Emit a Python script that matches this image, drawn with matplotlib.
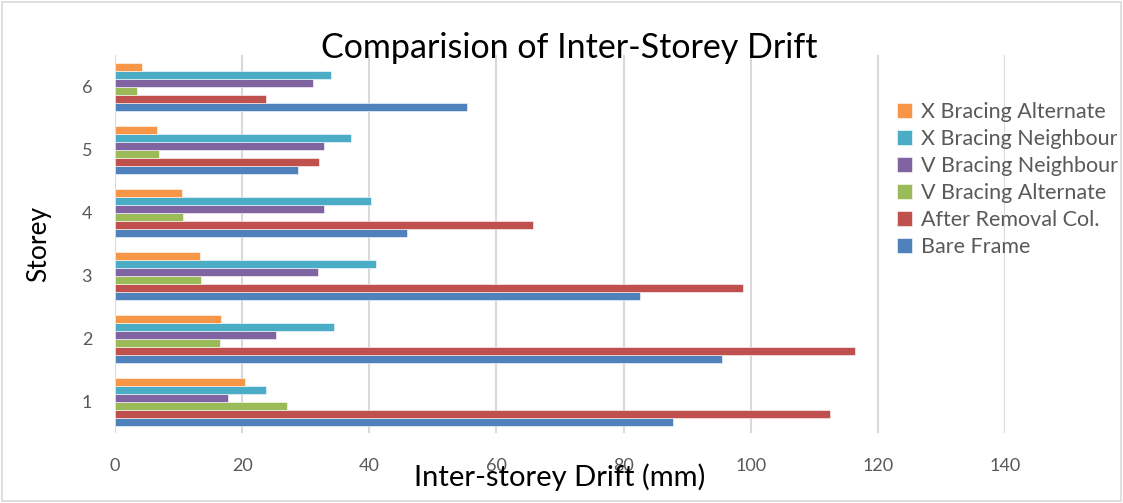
import matplotlib.pyplot as plt
import numpy as np
from matplotlib.patches import Rectangle

plt.rcParams['font.family'] = ['Lato', 'DejaVu Sans']

storeys = ['1', '2', '3', '4', '5', '6']
series_names = ['Bare Frame', 'After Removal Col.', 'V Bracing Alternate',
                'V Bracing Neighbour', 'X Bracing Neighbour', 'X Bracing Alternate']
bare_frame = [87.8, 95.5, 82.5, 46.0, 28.8, 55.4]
after_removal = [112.5, 116.4, 98.8, 65.8, 32.1, 23.7]
v_alternate = [27.0, 16.5, 13.5, 10.7, 6.9, 3.4]
v_neighbour = [17.8, 25.3, 31.9, 32.9, 32.8, 31.2]
x_neighbour = [23.8, 34.4, 41.1, 40.2, 37.1, 34.0]
x_alternate = [20.4, 16.7, 13.4, 10.5, 6.6, 4.2]
colors = ['#4F81BD', '#C0504D', '#9BBB59', '#8064A2', '#4BACC6', '#F79646']

data = [bare_frame, after_removal, v_alternate, v_neighbour, x_neighbour, x_alternate]

fig = plt.figure(figsize=(11.23, 5.03), dpi=100)
ax = fig.add_axes([0.1024, 0.139, 0.7926, 0.7516])

y = np.arange(len(storeys))
h = 0.127
for k, (vals, name, c) in enumerate(zip(data, series_names, colors)):
    ax.barh(y + (k - 2.5) * h, vals, height=h, color=c, label=name,
            edgecolor='white', linewidth=0.4, zorder=3)

ax.set_xlim(0, 140)
ax.set_ylim(-0.5, 5.5)
ax.set_xticks(range(0, 141, 20))
ax.set_yticks(y)
ax.set_yticklabels(storeys)
ax.grid(axis='x', color='#D9D9D9', linewidth=1.5, zorder=0)
for s in ax.spines.values():
    s.set_visible(False)
ax.tick_params(axis='both', length=0, labelsize=13, labelcolor='#595959')
ax.tick_params(axis='x', pad=18)
ax.tick_params(axis='y', pad=16.5)

ax.set_xlabel('Inter-storey Drift (mm)', fontsize=21, labelpad=-8)
ax.set_ylabel('Storey', fontsize=19, labelpad=22)
fig.text(0.507, 0.905, 'Comparision of Inter-Storey Drift', fontsize=24.5,
         ha='center', va='center')

handles, labels = ax.get_legend_handles_labels()
leg = ax.legend(handles[::-1], labels[::-1], loc='upper left',
                bbox_to_anchor=(0.879, 0.876), frameon=False, fontsize=15.5,
                borderpad=0, borderaxespad=0,
                handlelength=0.7, handleheight=0.7, handletextpad=0.4,
                labelspacing=0.33, labelcolor='#595959')

fig.patches.append(Rectangle((0.002, 0.004), 0.996, 0.992, transform=fig.transFigure,
                             fill=False, edgecolor='#D9D9D9', linewidth=1.2))

fig.savefig('out.png', dpi=100)
